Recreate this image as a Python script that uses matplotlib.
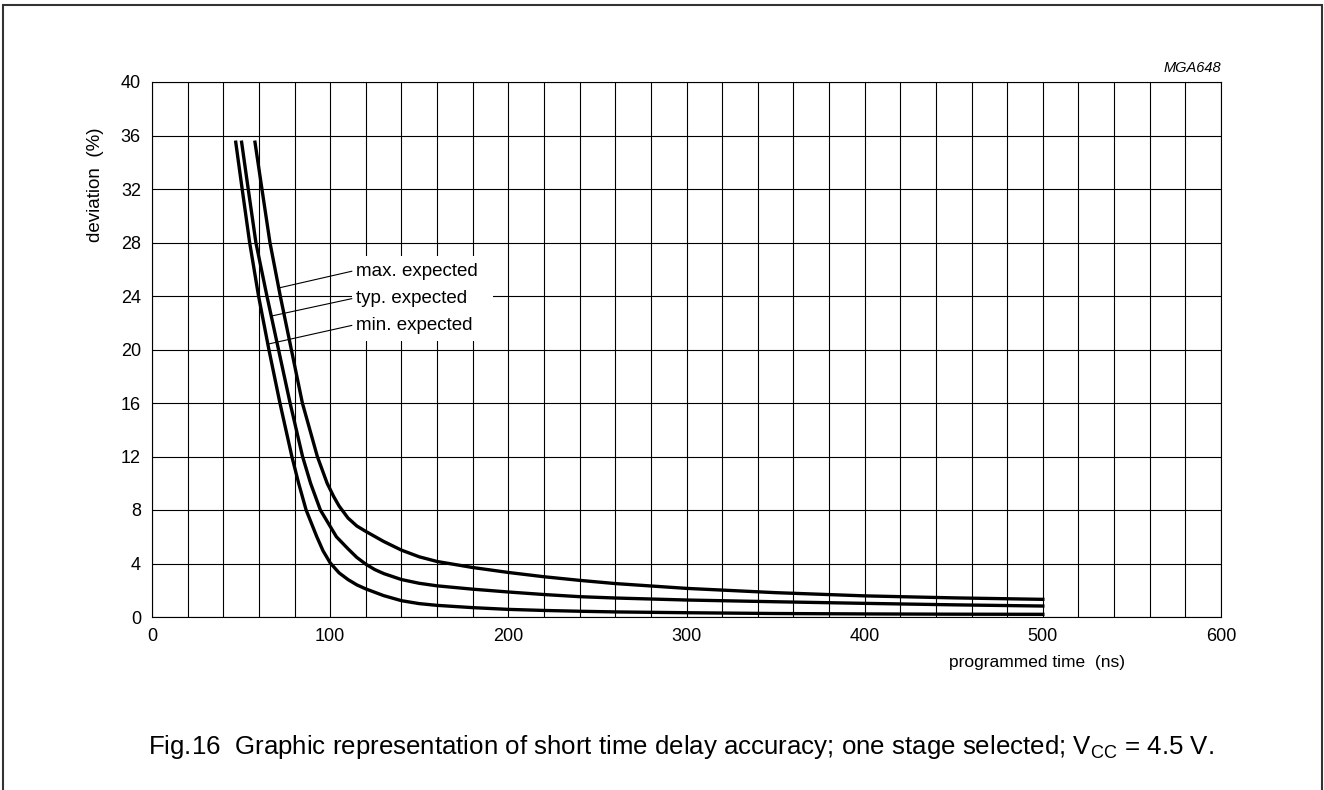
import matplotlib.pyplot as plt
import numpy as np
from matplotlib.patches import Rectangle

plt.rcParams["font.family"] = ["Liberation Sans", "DejaVu Sans"]
plt.rcParams["mathtext.fontset"] = "custom"
plt.rcParams["mathtext.rm"] = "Liberation Sans"

# curves: programmed time (ns) vs deviation (%)
min_t = [47.0, 50.6, 54.8, 59.8, 65.6, 71.8, 78.5, 82.3, 86.5, 92.5, 96, 100, 105,
         110, 115, 120, 130, 140, 150, 160, 180, 200, 220, 240, 260, 300, 350, 400,
         450, 500]
min_dev = [35.5, 32, 28, 24, 20, 16, 12, 10, 8, 6, 4.95, 4.05, 3.3,
           2.8, 2.4, 2.1, 1.6, 1.22, 1.0, 0.87, 0.7, 0.57, 0.49, 0.43, 0.38, 0.32,
           0.26, 0.23, 0.21, 0.2]

typ_t = [50.3, 54.0, 58.3, 64.5, 71.0, 77.5, 84.5, 89.0, 94.5, 99.0, 103.5,
         110, 115, 120, 125, 130, 140, 150, 160, 180, 200, 220, 240, 260, 300, 350,
         400, 450, 500]
typ_dev = [35.5, 32, 28, 24, 20, 16, 12, 10, 8, 7, 6,
           5.1, 4.45, 3.95, 3.55, 3.25, 2.8, 2.52, 2.33, 2.08, 1.87, 1.68, 1.52, 1.42,
           1.27, 1.14, 1.02, 0.91, 0.82]

max_t = [57.8, 61.7, 66.2, 72.0, 78.2, 84.4, 92.8, 98.3, 102, 105, 110, 115,
         120, 130, 140, 150, 160, 180, 200, 220, 240, 260, 300, 350, 400, 450, 500]
max_dev = [35.5, 32, 28, 24, 20, 16, 12, 10, 9.0, 8.3, 7.4, 6.8,
           6.4, 5.65, 5.0, 4.5, 4.15, 3.7, 3.33, 3.01, 2.74, 2.5, 2.14, 1.82, 1.58,
           1.43, 1.32]

labels = ["max. expected", "typ. expected", "min. expected"]
label_y = [25.85, 23.8, 21.8]
leader_y = [24.6, 22.5, 20.4]  # where each leader touches its curve

x_ticks = list(range(0, 601, 20))
y_ticks = list(range(0, 41, 4))

fig = plt.figure(figsize=(13.24, 7.90), dpi=100)
ax = fig.add_axes([152 / 1324, 1 - 617 / 790, 1069 / 1324, 535 / 790])

ax.set_xlim(0, 600)
ax.set_ylim(0, 40)
ax.set_xticks(x_ticks)
ax.set_xticklabels([str(t) if t % 100 == 0 else "" for t in x_ticks])
ax.set_yticks(y_ticks)
ax.tick_params(length=0, labelsize=13, colors="black")
ax.tick_params(axis="x", pad=8)
ax.tick_params(axis="y", pad=8)
ax.grid(True, color="black", linewidth=0.8)
ax.set_axisbelow(True)
for s in ax.spines.values():
    s.set_linewidth(0.8)
    s.set_color("black")

curves = [(max_t, max_dev), (typ_t, typ_dev), (min_t, min_dev)]
for t, d in curves:
    ax.plot(t, d, color="black", linewidth=2.4, solid_joinstyle="round", zorder=3)

# white box behind the curve labels
ax.add_patch(Rectangle((112.3, 20.6), 79.1, 6.4, facecolor="white",
                       edgecolor="none", zorder=2))

for lab, ly, y0, (t, d) in zip(labels, label_y, leader_y, curves):
    x0 = np.interp(y0, d[::-1], t[::-1])
    ax.plot([x0, 112.1], [y0, ly], color="black", linewidth=0.8, zorder=3)
    ax.text(114.5, ly, lab, fontsize=13.5, ha="left", va="center", zorder=4)

fig.text(1221 / 1324, 1 - 68 / 790, "MGA648", fontsize=10.5, style="italic",
         ha="right", va="center")
fig.text(95 / 1324, 1 - 185 / 790, "deviation  (%)", fontsize=13.5,
         rotation=90, ha="center", va="center")
fig.text(1125 / 1324, 1 - 663 / 790, "programmed time  (ns)", fontsize=12.5,
         ha="right", va="center")
fig.text(148 / 1324, 1 - 747 / 790,
         r"Fig.16  Graphic representation of short time delay accuracy; one stage selected; "
         r"V$_{\mathregular{CC}}$ = 4.5 V.",
         fontsize=18.6, ha="left", va="center")

# page frame
fig.add_artist(Rectangle((3 / 1324, -0.02), 1319 / 1324, 1.02 - 5 / 790,
                         transform=fig.transFigure, fill=False,
                         edgecolor="#333333", linewidth=1.5))

fig.savefig("out.png", dpi=100)
